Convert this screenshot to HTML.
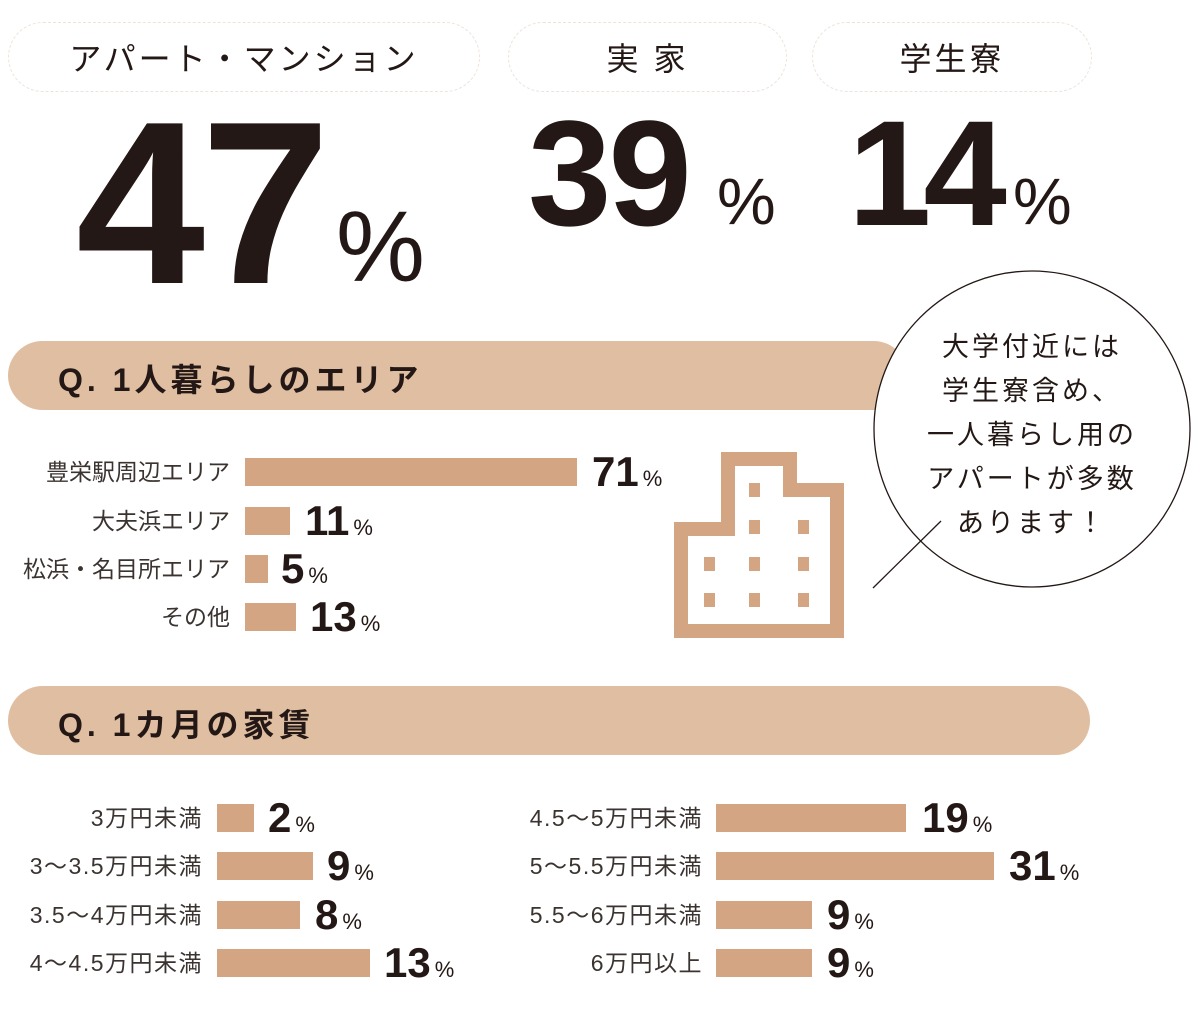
<!DOCTYPE html>
<html><head><meta charset="utf-8"><style>
body{margin:0;width:1200px;height:1035px;background:#fff;position:relative;overflow:hidden;font-family:"Liberation Sans","Noto Sans CJK JP",sans-serif;color:#231815}
.a{position:absolute;white-space:nowrap}
.pill{position:absolute;border:1px dashed #eee3da;border-radius:35px;height:68px;top:22px;display:flex;align-items:center;justify-content:center;font-size:32px;letter-spacing:3px;color:#231815}
.band{position:absolute;left:8px;height:69px;background:#e0bea2;border-radius:35px}
.bt{position:absolute;left:58px;font-size:32px;font-weight:bold;letter-spacing:4px}
.bar{position:absolute;background:#d4a583;height:28px}
.lb{position:absolute;font-size:23px;color:#3a3330;text-align:right;white-space:nowrap;line-height:28px}
.lb2{letter-spacing:1.5px}
.v{position:absolute;font-size:42px;line-height:28px;font-weight:bold;white-space:nowrap}
.v small{font-size:22px;font-weight:normal;margin-left:4px}
.big{position:absolute;font-weight:bold;line-height:1;white-space:nowrap}
</style></head><body>
<div class="pill" style="left:8px;width:470px">アパート・マンション</div>
<div class="pill" style="left:508px;width:277px">実 家</div>
<div class="pill" style="left:812px;width:278px">学生寮</div>

<div class="big" style="left:76px;top:88px;font-size:232px;letter-spacing:-4px">47</div>
<div class="big" style="left:336px;top:197px;font-size:100px;font-weight:normal">%</div>
<div class="big" style="left:528px;top:98px;font-size:150px;letter-spacing:-3px">39</div>
<div class="big" style="left:717px;top:168px;font-size:66px;font-weight:normal">%</div>
<div class="big" style="left:848px;top:98px;font-size:150px;letter-spacing:-8px">14</div>
<div class="big" style="left:1013px;top:168px;font-size:66px;font-weight:normal">%</div>

<div class="band" style="top:341px;width:900px"></div>
<div class="bt" style="top:355px">Q. 1人暮らしのエリア</div>

<div class="lb" style="right:970px;top:458px">豊栄駅周辺エリア</div>
<div class="lb" style="right:970px;top:507px">大夫浜エリア</div>
<div class="lb" style="right:970px;top:555px">松浜・名目所エリア</div>
<div class="lb" style="right:970px;top:603px">その他</div>
<div class="bar" style="left:245px;top:458px;width:332px"></div>
<div class="bar" style="left:245px;top:507px;width:45px"></div>
<div class="bar" style="left:245px;top:555px;width:23px"></div>
<div class="bar" style="left:245px;top:603px;width:51px"></div>
<div class="v" style="left:592px;top:458px">71<small>%</small></div>
<div class="v" style="left:305px;top:507px">11<small>%</small></div>
<div class="v" style="left:281px;top:555px">5<small>%</small></div>
<div class="v" style="left:310px;top:603px">13<small>%</small></div>

<svg class="a" style="left:0;top:0" width="1200" height="1035">
<path d="M674,522 H721 V452 H797 V483 H844 V638 H674 Z M688,536 V624 H830 V497 H783 V466 H735 V536 Z" fill="#d4a583" fill-rule="evenodd"/>
<g fill="#d4a583">
<rect x="749" y="483" width="11" height="14"/>
<rect x="749" y="520" width="11" height="14"/><rect x="798" y="520" width="11" height="14"/>
<rect x="704" y="557" width="11" height="14"/><rect x="749" y="557" width="11" height="14"/><rect x="798" y="557" width="11" height="14"/>
<rect x="704" y="593" width="11" height="14"/><rect x="749" y="593" width="11" height="14"/><rect x="798" y="593" width="11" height="14"/>
</g>
<circle cx="1032" cy="429" r="158" fill="#fff" stroke="#231815" stroke-width="1.3"/>
<line x1="941" y1="521" x2="873" y2="588" stroke="#231815" stroke-width="1.3"/>
</svg>
<div class="a" style="left:874px;top:325px;width:316px;text-align:center;font-size:27px;line-height:44px;letter-spacing:3px">大学付近には<br>学生寮含め、<br>一人暮らし用の<br>アパートが多数<br>あります！</div>

<div class="band" style="top:686px;width:1082px"></div>
<div class="bt" style="top:700px">Q. 1カ月の家賃</div>

<div class="lb lb2" style="right:997px;top:804px">3万円未満</div>
<div class="lb lb2" style="right:997px;top:852px">3～3.5万円未満</div>
<div class="lb lb2" style="right:997px;top:901px">3.5～4万円未満</div>
<div class="lb lb2" style="right:997px;top:949px">4～4.5万円未満</div>
<div class="bar" style="left:217px;top:804px;width:37px"></div>
<div class="bar" style="left:217px;top:852px;width:96px"></div>
<div class="bar" style="left:217px;top:901px;width:83px"></div>
<div class="bar" style="left:217px;top:949px;width:153px"></div>
<div class="v" style="left:268px;top:804px">2<small>%</small></div>
<div class="v" style="left:327px;top:852px">9<small>%</small></div>
<div class="v" style="left:315px;top:901px">8<small>%</small></div>
<div class="v" style="left:384px;top:949px">13<small>%</small></div>

<div class="lb lb2" style="right:497px;top:804px">4.5～5万円未満</div>
<div class="lb lb2" style="right:497px;top:852px">5～5.5万円未満</div>
<div class="lb lb2" style="right:497px;top:901px">5.5～6万円未満</div>
<div class="lb lb2" style="right:497px;top:949px">6万円以上</div>
<div class="bar" style="left:716px;top:804px;width:190px"></div>
<div class="bar" style="left:716px;top:852px;width:278px"></div>
<div class="bar" style="left:716px;top:901px;width:96px"></div>
<div class="bar" style="left:716px;top:949px;width:96px"></div>
<div class="v" style="left:922px;top:804px">19<small>%</small></div>
<div class="v" style="left:1009px;top:852px">31<small>%</small></div>
<div class="v" style="left:827px;top:901px">9<small>%</small></div>
<div class="v" style="left:827px;top:949px">9<small>%</small></div>
</body></html>
